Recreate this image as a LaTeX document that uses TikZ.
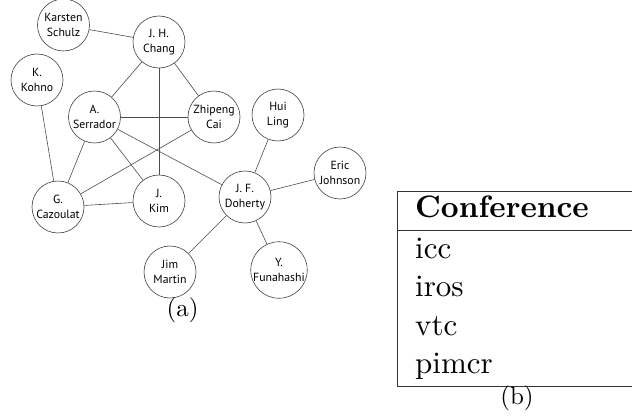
\documentclass[tikz,border=0pt]{standalone}
\usepackage{fontspec}
\newfontfamily\personfont{PT Sans}
\newfontfamily\tablefont{lmroman10-regular.otf}[BoldFont=lmroman10-bold.otf]
\begin{document}
\begin{tikzpicture}[x=1pt,y=-1pt,
  person/.style={circle,draw=black!75,line width=0.6pt,minimum size=52pt,inner sep=0pt,
    align=center,font=\personfont\fontsize{11.8}{14.5}\selectfont},
  link/.style={draw=black!70,line width=0.6pt},
  rule/.style={draw=black!80,line width=0.9pt},
  cell/.style={anchor=base west,inner sep=0pt,font=\tablefont\fontsize{31}{37}\selectfont},
  caption/.style={anchor=base,inner sep=0pt,font=\tablefont\fontsize{25}{28}\selectfont}]
\useasboundingbox (0,0) rectangle (632,417);

% co-authorship graph
\node[person] (schulz)   at (63.5,25)  {Karsten\\Schulz};
\node[person] (chang)    at (159,42)   {J. H.\\Chang};
\node[person] (kohno)    at (37,80)    {K.\\Kohno};
\node[person] (serrador) at (94.5,117) {A.\\Serrador};
\node[person] (cai)      at (214,117)  {Zhipeng\\Cai};
\node[person] (ling)     at (278,115)  {Hui\\Ling};
\node[person] (johnson)  at (340,173)  {Eric\\Johnson};
\node[person] (cazoulat) at (58,207)   {G.\\Cazoulat};
\node[person] (kim)      at (159,201)  {J.\\Kim};
\node[person] (doherty)  at (245,197)  {J. F.\\Doherty};
\node[person] (martin)   at (170,272)  {Jim\\Martin};
\node[person] (funahashi) at (279,270) {Y.\\Funahashi};

\path[link] (schulz) -- (chang);
\path[link] (chang) -- (serrador);
\path[link] (chang) -- (cai);
\path[link] (chang) -- (kim);
\path[link] (kohno) -- (cazoulat);
\path[link] (serrador) -- (cai);
\path[link] (serrador) -- (cazoulat);
\path[link] (serrador) -- (kim);
\path[link] (serrador) -- (doherty);
\path[link] (cai) -- (cazoulat);
\path[link] (cazoulat) -- (kim);
\path[link] (ling) -- (doherty);
\path[link] (johnson) -- (doherty);
\path[link] (doherty) -- (martin);
\path[link] (doherty) -- (funahashi);

\node[caption] (capa) at (182.5,316) {(a)};

% conference table
\coordinate (tl) at (397,191);
\coordinate (tr) at (632,191);
\coordinate (hl) at (397,230);
\coordinate (hr) at (632,230);
\coordinate (bl) at (397,386);
\coordinate (br) at (632,386);
\path[rule] (tr) -- (tl) -- (bl) -- (br);
\path[rule] (hl) -- (hr);

\node[cell] (head) at (415,217) {\bfseries Conference};
\node[cell] (r1) at (415,258) {icc};
\node[cell] (r2) at (415,296) {iros};
\node[cell] (r3) at (415,335) {vtc};
\node[cell] (r4) at (415,373) {pimcr};

\node[caption] (capb) at (517,404) {(b)};
\end{tikzpicture}
\end{document}
